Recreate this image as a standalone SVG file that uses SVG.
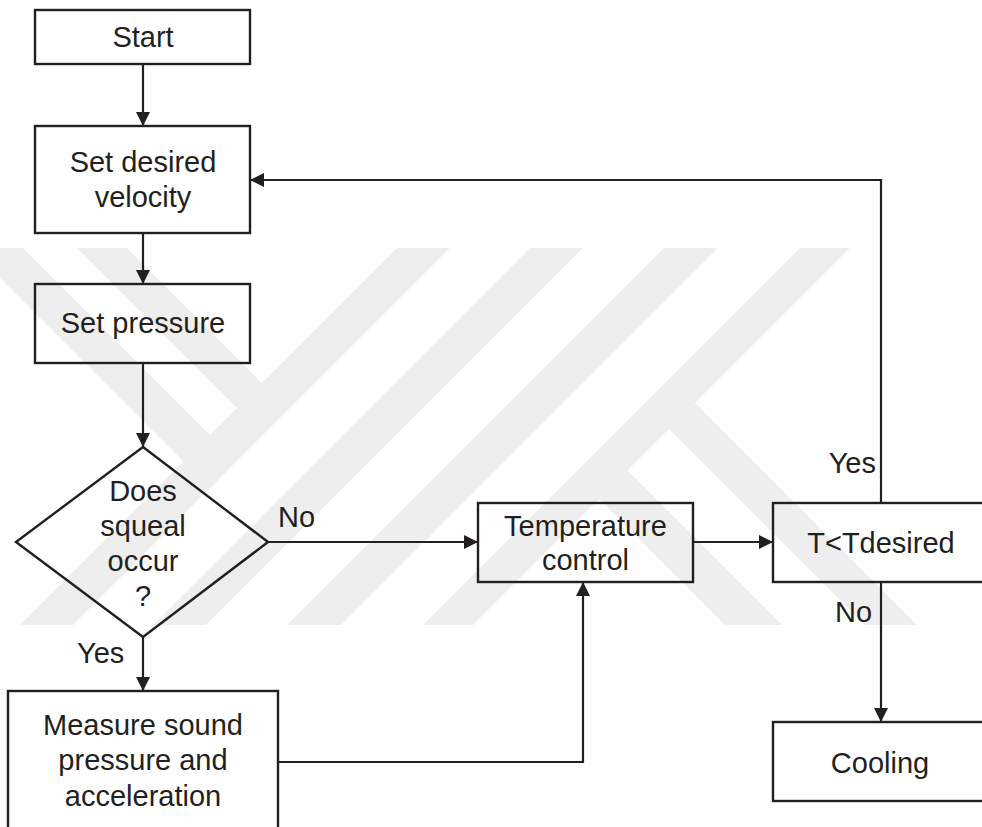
<svg xmlns="http://www.w3.org/2000/svg" width="982" height="827" viewBox="0 0 982 827">
  <style>
    .box { fill: none; stroke: #231f20; stroke-width: 2.4; }
    .wire { fill: none; stroke: #231f20; stroke-width: 2.2; }
    .lbl { font-family: "Liberation Sans", Arial, sans-serif; font-size: 29px; fill: #231f20; text-anchor: middle; }
    .tag { font-family: "Liberation Sans", Arial, sans-serif; font-size: 29px; fill: #231f20; }
    .mark { fill: #eeeeee; }
  </style>
  <defs>
    <marker id="arrow" markerUnits="userSpaceOnUse" markerWidth="15" markerHeight="15" refX="14" refY="7" orient="auto">
      <path d="M0,0 L14,7 L0,14 z" fill="#231f20"/>
    </marker>
    <clipPath id="band-clip">
      <rect x="0" y="248" width="982" height="377"/>
    </clipPath>
  </defs>

  <rect x="0" y="0" width="982" height="827" fill="#ffffff"/>

  <!-- faint striped logo in the background -->
  <g id="backdrop" clip-path="url(#band-clip)">
    <!-- slanted "/" bands -->
    <polygon class="mark" points="397,248 450,248 73,625 20,625"/>
    <polygon class="mark" points="530,248 583,248 206,625 153,625"/>
    <polygon class="mark" points="664,248 718,248 341,625 287,625"/>
    <polygon class="mark" points="800,248 850,248 473,625 423,625"/>
    <!-- "\" bands of the Y -->
    <polygon class="mark" points="77,248 127,248 287,408 237,408"/>
    <polygon class="mark" points="-30,248 23,248 236,461 210,488"/>
    <!-- "\" bands of the K -->
    <polygon class="mark" points="695,403 669,429 865,625 917,625"/>
    <polygon class="mark" points="627,470 599,499 725,625 782,625"/>
  </g>

  <g id="connectors">
    <path class="wire" d="M143,64 V126" marker-end="url(#arrow)"/>
    <path class="wire" d="M143,233 V284" marker-end="url(#arrow)"/>
    <path class="wire" d="M143,363 V447" marker-end="url(#arrow)"/>
    <path class="wire" d="M143,637 V691" marker-end="url(#arrow)"/>
    <path class="wire" d="M268,542 H478" marker-end="url(#arrow)"/>
    <path class="wire" d="M278,762 H583 V582" marker-end="url(#arrow)"/>
    <path class="wire" d="M693,542 H773" marker-end="url(#arrow)"/>
    <path class="wire" d="M881,503 V180 H250" marker-end="url(#arrow)"/>
    <path class="wire" d="M881,582 V722" marker-end="url(#arrow)"/>
    <text class="tag" x="278" y="527">No</text>
    <text class="tag" x="77" y="663">Yes</text>
    <text class="tag" x="876" y="473" text-anchor="end">Yes</text>
    <text class="tag" x="835" y="622">No</text>
  </g>

  <g id="start">
    <rect class="box" x="35" y="10" width="215" height="54"/>
    <text class="lbl" x="143" y="47">Start</text>
  </g>

  <g id="set-velocity">
    <rect class="box" x="35" y="126" width="215" height="107"/>
    <text class="lbl" x="143" y="172">Set desired</text>
    <text class="lbl" x="143" y="207">velocity</text>
  </g>

  <g id="set-pressure">
    <rect class="box" x="35" y="284" width="215" height="79"/>
    <text class="lbl" x="143" y="333">Set pressure</text>
  </g>

  <g id="squeal-check">
    <polygon class="box" points="143,447 268,542 143,637 16,542"/>
    <text class="lbl" x="143" y="501">Does</text>
    <text class="lbl" x="143" y="536">squeal</text>
    <text class="lbl" x="143" y="571">occur</text>
    <text class="lbl" x="143" y="606">?</text>
  </g>

  <g id="measure">
    <rect class="box" x="8" y="691" width="270" height="150"/>
    <text class="lbl" x="143" y="735">Measure sound</text>
    <text class="lbl" x="143" y="770">pressure and</text>
    <text class="lbl" x="143" y="806">acceleration</text>
  </g>

  <g id="temperature-control">
    <rect class="box" x="478" y="503" width="215" height="79"/>
    <text class="lbl" x="585.5" y="536">Temperature</text>
    <text class="lbl" x="585.5" y="570">control</text>
  </g>

  <g id="temperature-check">
    <rect class="box" x="773" y="503" width="230" height="79"/>
    <text class="lbl" x="881" y="553">T&lt;Tdesired</text>
  </g>

  <g id="cooling">
    <rect class="box" x="773" y="722" width="230" height="79"/>
    <text class="lbl" x="880" y="773">Cooling</text>
  </g>
</svg>
